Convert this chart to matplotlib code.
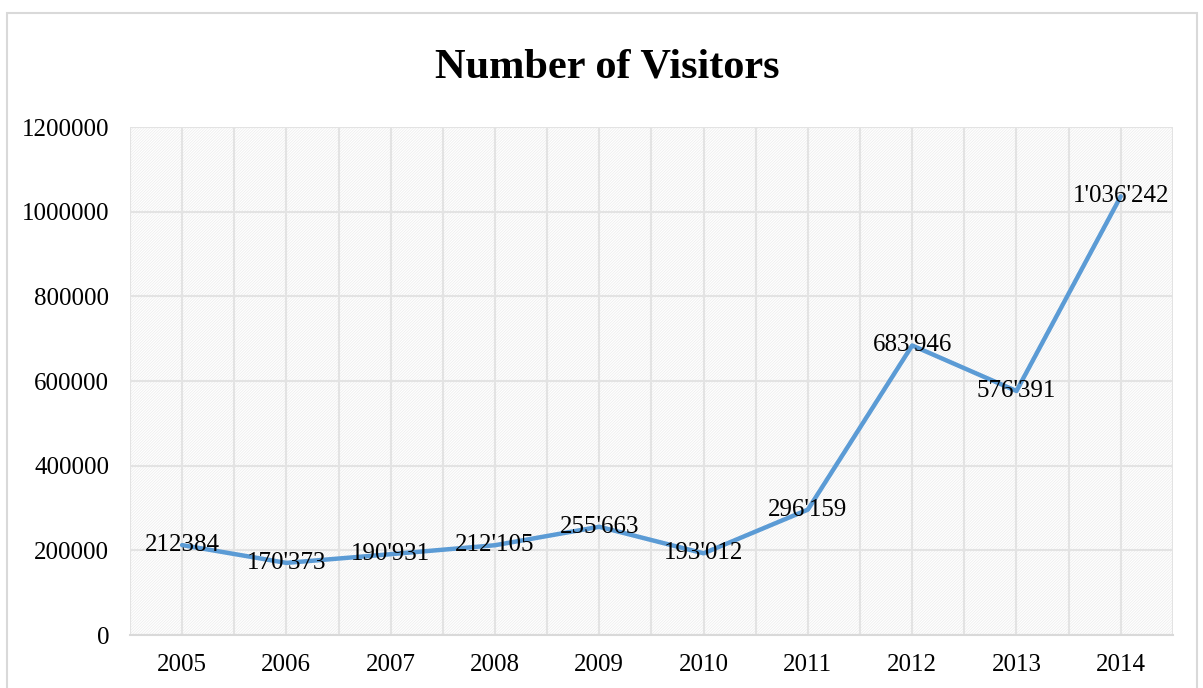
import matplotlib.pyplot as plt
from matplotlib.patches import Rectangle

years = ['2005', '2006', '2007', '2008', '2009', '2010', '2011', '2012', '2013', '2014']
visitors = [212384, 170373, 190931, 212105, 255663, 193012, 296159, 683946, 576391, 1036242]
y_ticks = [0, 200000, 400000, 600000, 800000, 1000000, 1200000]

plt.rcParams['font.family'] = ['Liberation Serif', 'DejaVu Serif']
plt.rcParams['hatch.color'] = '#ebebeb'
plt.rcParams['hatch.linewidth'] = 0.5

fig = plt.figure(figsize=(12.03, 6.88), dpi=100)
ax = fig.add_axes([0.108, 0.077, 0.867, 0.7384])

# outer chart frame
fig.patches.append(Rectangle((7 / 1203, -0.01), 1190 / 1203, 1 - 13 / 688 + 0.01,
                             transform=fig.transFigure, fill=False,
                             edgecolor='#d9d9d9', linewidth=1.5))

x = list(range(len(years)))

# patterned plot area
ax.add_patch(Rectangle((0, 0), 1, 1, transform=ax.transAxes, facecolor='white',
                       edgecolor='#ebebeb', hatch='/' * 12, linewidth=0, zorder=0))

ax.plot(x, visitors, color='#5B9BD5', linewidth=3.2, solid_capstyle='round', zorder=3)

labels = [f"{v:,}".replace(',', "'") for v in visitors]
labels[0] = str(visitors[0])
for xi, v, lab in zip(x, visitors, labels):
    ax.text(xi, v, lab, ha='center', va='center', fontsize=18, zorder=4)

ax.set_xlim(-0.5, len(years) - 0.5)
ax.set_ylim(0, 1200000)
ax.set_xticks(x)
ax.set_xticklabels(years)
ax.set_xticks([i - 0.5 for i in range(len(years) + 1)], minor=True)
ax.set_yticks(y_ticks)
ax.set_yticklabels([str(t) for t in y_ticks])
ax.tick_params(axis='both', which='both', length=0, labelsize=18)
ax.tick_params(axis='x', pad=14)
ax.tick_params(axis='y', pad=15)

ax.grid(True, which='both', axis='x', color='#e3e3e3', linewidth=1.5, zorder=1)
ax.grid(True, which='major', axis='y', color='#e3e3e3', linewidth=1.5, zorder=1)
ax.set_axisbelow(True)
for side in ['top', 'right', 'left']:
    ax.spines[side].set_visible(False)
ax.spines['bottom'].set_color('#d9d9d9')
ax.spines['bottom'].set_linewidth(1.5)

fig.text(0.505, 0.902, 'Number of Visitors', ha='center', va='center',
         fontsize=30.5, fontweight='bold')

fig.savefig('out.png', dpi=100)
